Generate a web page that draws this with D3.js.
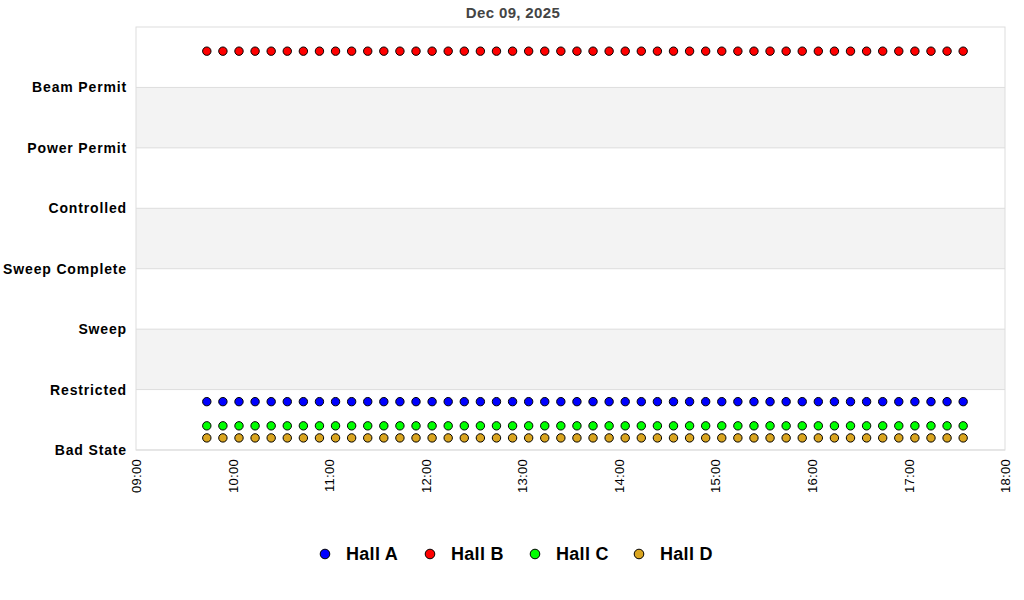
<!DOCTYPE html>
<html><head><meta charset="utf-8">
<script src="https://cdn.jsdelivr.net/npm/d3@7/dist/d3.min.js"></script>
<style>body{margin:0;background:#fff;font-family:"Liberation Sans",Arial,sans-serif;}</style>
</head><body>
<svg id="c" width="1024" height="600"></svg>
<script>
const title = "Dec 09, 2025";
const states = ["Bad State","Restricted","Sweep","Sweep Complete","Controlled","Power Permit","Beam Permit"];
const series = ["Hall A","Hall B","Hall C","Hall D"];
const colors = ["#0000ff","#ff0000","#00ff00","#daa520"];
const levels = [0.8, 6.6, 0.4, 0.2];
const xTicks = ["09:00","10:00","11:00","12:00","13:00","14:00","15:00","16:00","17:00","18:00"];
const sampleTimes = ["09:44","09:54","10:04","10:14","10:24","10:34","10:44","10:54","11:04","11:14","11:24","11:34","11:44","11:54","12:04","12:14","12:24","12:34","12:44","12:54","13:04","13:14","13:24","13:34","13:44","13:54","14:04","14:14","14:24","14:34","14:44","14:54","15:04","15:14","15:24","15:34","15:44","15:54","16:04","16:14","16:24","16:34","16:44","16:54","17:04","17:14","17:24","17:34"];

const parse = s => { const [h,m] = s.split(":").map(Number); return new Date(2025,11,9,h,m); };
const svg = d3.select("#c");
const L=136, R=1005, T=27, B=450;
const x = d3.scaleTime().domain([parse("09:00"), parse("18:00")]).range([L,R]);
const y = d3.scaleLinear().domain([0,7]).range([B,T]);

// alternating bands
[1,3,5].forEach(v=>{
  svg.append("rect").attr("x",L).attr("width",R-L).attr("y",y(v+1)).attr("height",y(v)-y(v+1)).attr("fill","#f3f3f3");
});
// gridlines
states.forEach((s,i)=>{
  svg.append("line").attr("x1",L).attr("x2",R).attr("y1",y(i)).attr("y2",y(i)).attr("stroke","#dddddd");
});
svg.append("rect").attr("x",L).attr("y",T).attr("width",R-L).attr("height",B-T).attr("fill","none").attr("stroke","#dddddd");

// y labels
const yAxis = svg.append("g").attr("transform",`translate(${L},0)`)
  .call(d3.axisLeft(y).tickValues(d3.range(states.length)).tickFormat(i=>states[i]).tickSize(0).tickPadding(9));
yAxis.select(".domain").remove();
yAxis.selectAll("text").attr("font-family","Liberation Sans, Arial, sans-serif").attr("font-size",14).attr("font-weight","bold").attr("fill","#000").style("letter-spacing","0.85px");

// x axis
const xAxis = svg.append("g").attr("transform",`translate(0,${B})`)
  .call(d3.axisBottom(x).tickValues(xTicks.map(parse)).tickFormat(d3.timeFormat("%H:%M")).tickSize(0));
xAxis.select(".domain").remove();
xAxis.selectAll("text").attr("font-family","Liberation Sans, Arial, sans-serif").attr("font-size",13).attr("fill","#000")
  .style("letter-spacing","0.3px")
  .attr("transform","rotate(-90)").attr("text-anchor","end").attr("x",-9).attr("y",0).attr("dy","0.35em");

// points
series.forEach((s,si)=>{
  svg.append("g").selectAll("circle").data(sampleTimes).join("circle")
    .attr("cx",d=>x(parse(d))).attr("cy",y(levels[si])).attr("r",4.2)
    .attr("fill",colors[si]).attr("stroke","#000").attr("stroke-width",1);
});

// title
svg.append("text").attr("x",513).attr("y",18).attr("text-anchor","middle")
  .attr("font-size",15).attr("font-weight","bold").attr("fill","#444").style("letter-spacing","0.35px").text(title);

// legend
const legX = [325,430,535,639];
series.forEach((s,i)=>{
  svg.append("circle").attr("cx",legX[i]).attr("cy",554).attr("r",4.8).attr("fill",colors[i]).attr("stroke","#000");
  svg.append("text").attr("x",legX[i]+21).attr("y",554).attr("dy","0.35em")
    .attr("font-size",18).attr("font-weight","bold").attr("fill","#000").style("letter-spacing","0.3px").text(s);
});
</script>
</body></html>
